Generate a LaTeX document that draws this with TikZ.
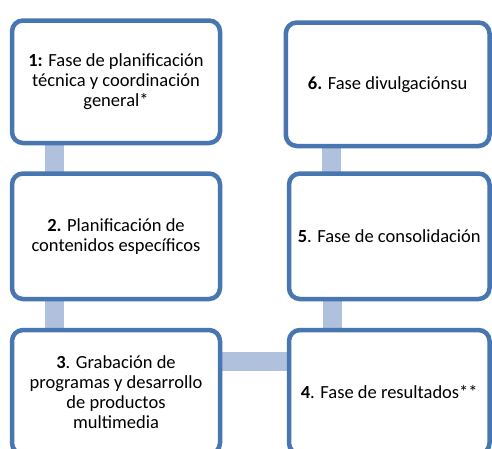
\documentclass[tikz,border=0pt]{standalone}
\usepackage{fontspec}
\setmainfont{Carlito}
\usetikzlibrary{backgrounds}
\definecolor{boxline}{RGB}{72,118,176}
\definecolor{connfill}{RGB}{176,193,221}
\begin{document}
\begin{tikzpicture}[x=1pt,y=-1pt,
  phase/.style={draw=boxline, line width=4.5pt, fill=white, rounded corners=11pt,
    rectangle, align=center, inner sep=0pt, outer sep=0pt,
    font=\fontsize{18.5}{20}\selectfont},
  conn/.style={draw=connfill, line width=19pt}]
\clip (0,0) rectangle (492,448);
\node[phase, minimum width=208pt, minimum height=122.5pt] (b1) at (116,81.75)
  {\textbf{1:} Fase de planificación\\técnica y coordinación\\general*};
\node[phase, minimum width=208pt, minimum height=125.5pt] (b2) at (116,236.25)
  {\textbf{2.} Planificación de\\contenidos específicos};
\node[phase, minimum width=208pt, minimum height=124pt] (b3) at (116,392)
  {\textbf{3}. Grabación de\\programas y desarrollo\\de productos\\multimedia};
\node[phase, minimum width=203.7pt, minimum height=123.5pt] (b6) at (387.65,84.25)
  {\textbf{6.} Fase divulgaciónsu};
\node[phase, minimum width=200.5pt, minimum height=125.5pt] (b5) at (389.25,236.25)
  {\textbf{5}. Fase de consolidación};
\node[phase, minimum width=200.5pt, minimum height=124pt] (b4) at (389.25,392)
  {\textbf{4}. Fase de resultados**};
\begin{scope}[on background layer]
\draw[conn] ([xshift=42.5pt]b1.south west) -- ([xshift=42.5pt]b2.north west);
\draw[conn] ([xshift=42.5pt]b2.south west) -- ([xshift=42.5pt]b3.north west);
\draw[conn] ([yshift=-31pt]b3.north east) -- ([yshift=-31pt]b4.north west);
\draw[conn] ([xshift=43.5pt]b5.south west) -- ([xshift=43.5pt]b4.north west);
\draw[conn] ([xshift=45.4pt]b6.south west) -- ([xshift=42.2pt]b5.north west);
\end{scope}
\end{tikzpicture}
\end{document}
